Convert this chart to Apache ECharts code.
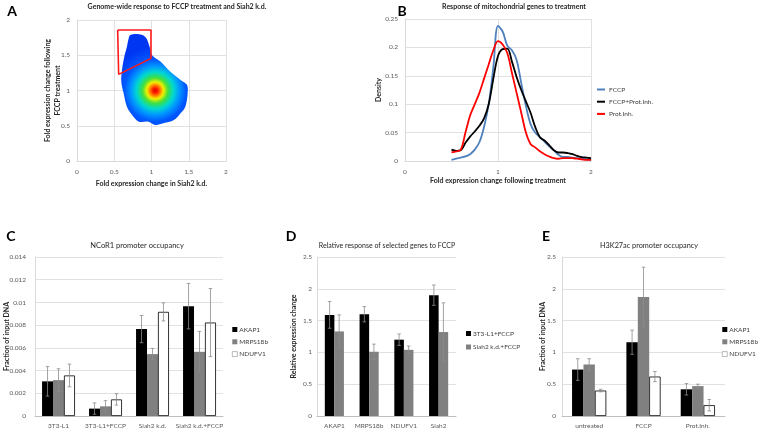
<!DOCTYPE html>
<html><head><meta charset="utf-8">
<script src="https://cdn.jsdelivr.net/npm/echarts@6/dist/echarts.min.js"></script>
<style>html,body{margin:0;padding:0;background:#fff}#c{width:765px;height:432px}</style>
</head><body><div id="c"></div>
<script>
// ---------- Panel A data ----------
const blobX = [0.716,0.805,0.917,0.975,1.007,1.12,1.25,1.39,1.476,1.485,1.454,1.39,1.30,1.16,1.05,0.96,0.83,0.74,0.67,0.626,0.595,0.604,0.635,0.67,0.694];
const blobY = [1.787,1.80,1.76,1.62,1.50,1.41,1.27,1.15,1.08,0.96,0.77,0.676,0.58,0.534,0.51,0.558,0.558,0.652,0.77,0.96,1.125,1.29,1.48,1.62,1.74];
const hotSpot = [1.05, 1.0];
const boxX = [0.546,0.993,0.993,0.559,0.546];
const boxY = [1.858,1.858,1.456,1.229,1.858];

// ---------- Panel B data ----------
const bX = [0.5,0.55,0.6,0.65,0.7,0.75,0.8,0.85,0.9,0.95,1.0,1.05,1.1,1.15,1.2,1.25,1.3,1.35,1.4,1.45,1.5,1.55,1.6,1.65,1.7,1.75,1.8,1.85,1.9,1.95,2.0];
const bFCCP = [0.002,0.004,0.006,0.008,0.012,0.02,0.033,0.06,0.1,0.165,0.238,0.228,0.203,0.195,0.178,0.137,0.097,0.065,0.05,0.042,0.034,0.026,0.019,0.011,0.007,0.007,0.006,0.005,0.004,0.003,0.002];
const bFCCPProt = [0.02,0.018,0.019,0.032,0.043,0.052,0.062,0.075,0.1,0.145,0.185,0.197,0.198,0.175,0.148,0.125,0.105,0.085,0.06,0.042,0.036,0.028,0.019,0.015,0.015,0.014,0.012,0.009,0.007,0.006,0.005];
const bProt = [0.015,0.017,0.02,0.05,0.08,0.1,0.12,0.145,0.17,0.195,0.211,0.205,0.19,0.155,0.12,0.085,0.05,0.03,0.024,0.017,0.012,0.008,0.005,0.004,0.005,0.005,0.005,0.004,0.003,0.002,0.002];

// ---------- Panel C data ----------
const cCats = ['3T3-L1','3T3-L1+FCCP','Siah2 k.d.','Siah2 k.d.+FCCP'];
const cAKAP1 = [0.00305,0.00065,0.00765,0.00967];
const cAKAP1Err = [0.0013,0.0005,0.0012,0.002];
const cMRPS18b = [0.00316,0.00085,0.00545,0.00565];
const cMRPS18bErr = [0.001,0.0005,0.0005,0.0018];
const cNDUFV1 = [0.00357,0.00146,0.00917,0.00823];
const cNDUFV1Err = [0.001,0.0005,0.0008,0.003];

// ---------- Panel D data ----------
const dCats = ['AKAP1','MRPS18b','NDUFV1','Siah2'];
const d3T3 = [1.59,1.60,1.20,1.90];
const d3T3Err = [0.21,0.12,0.09,0.16];
const dSiah = [1.33,1.01,1.04,1.32];
const dSiahErr = [0.26,0.12,0.06,0.46];

// ---------- Panel E data ----------
const eCats = ['untreated','FCCP','Prot.Inh.'];
const eAKAP1 = [0.73,1.16,0.42];
const eAKAP1Err = [0.17,0.19,0.09];
const eMRPS18b = [0.81,1.87,0.47];
const eMRPS18bErr = [0.09,0.47,0.03];
const eNDUFV1 = [0.40,0.62,0.17];
const eNDUFV1Err = [0.02,0.08,0.09];

const FONT = 'Lato, "Open Sans", sans-serif';
const gridCol = '#d9d9d9';
const lblStyle = {fontSize:6.5, color:'#595959', fontFamily:FONT};
const nameStyle = {fontSize:7, color:'#262626', fontWeight:'bold', fontFamily:FONT};

const chart = echarts.init(document.getElementById('c'), null, {renderer:'canvas'});

function valAxis(gi, min, max, interval, extra) {
  return Object.assign({
    type:'value', gridIndex:gi, min:min, max:max, interval:interval,
    axisLine:{show:true, lineStyle:{color:gridCol}}, axisTick:{show:false},
    splitLine:{show:true, lineStyle:{color:gridCol, width:0.8}},
    axisLabel:Object.assign({margin:7}, lblStyle),
    nameMoveOverlap:false
  }, extra || {});
}
function catAxis(gi, cats) {
  return {
    type:'category', gridIndex:gi, data:cats,
    axisLine:{show:true, lineStyle:{color:'#bfbfbf'}}, axisTick:{show:false},
    axisLabel:Object.assign({margin:6, interval:0}, lblStyle)
  };
}
function bar(name, xi, yi, data, color, gap, border) {
  return {
    type:'bar', name:name, xAxisIndex:xi, yAxisIndex:yi, data:data,
    barGap:'0%', barCategoryGap:gap,
    itemStyle:{color:color, borderColor:border ? '#000' : color, borderWidth:border ? 0.8 : 0},
    emphasis:{disabled:true}, z:2
  };
}
function errBars(xi, yi, vals, errs, si, n, gapFrac) {
  return {
    type:'custom', name:'err'+xi+'_'+si, xAxisIndex:xi, yAxisIndex:yi, z:5, silent:true,
    data: vals.map((v,i)=>[i, v, errs[i]]),
    renderItem: function(params, api){
      const ci = api.value(0), v = api.value(1), e = api.value(2);
      const band = api.size([1,0])[0];
      const total = band*(1-gapFrac), bw = total/n;
      const x = api.coord([ci,0])[0] - total/2 + bw*(si+0.5);
      const yt = api.coord([ci, v+e])[1], yb = api.coord([ci, v-e])[1];
      const st = {stroke:'#8c8c8c', lineWidth:0.8};
      return {type:'group', children:[
        {type:'line', shape:{x1:x,y1:yt,x2:x,y2:yb}, style:st},
        {type:'line', shape:{x1:x-1.8,y1:yt,x2:x+1.8,y2:yt}, style:st},
        {type:'line', shape:{x1:x-1.8,y1:yb,x2:x+1.8,y2:yb}, style:st}
      ]};
    }
  };
}
function bLine(name, data, color) {
  return {
    type:'line', name:name, xAxisIndex:1, yAxisIndex:1, smooth:0.35, showSymbol:false,
    data:bX.map((x,i)=>[x,data[i]]), lineStyle:{color:color, width:1.8}, itemStyle:{color:color},
    emphasis:{disabled:true}
  };
}
function txt(x, y, text, opts) {
  return {type:'text', x:x, y:y, silent:true, style:Object.assign({
    text:text, align:'center', verticalAlign:'middle', fontFamily:FONT, fontSize:7, fill:'#262626'
  }, opts || {})};
}
const legTxt = Object.assign({}, lblStyle, {color:'#404040', padding:[0,0,0,-3]});
const whiteIcon = {itemStyle:{color:'#fff', borderColor:'#8c8c8c', borderWidth:0.6}};

const option = {
  animation:false,
  textStyle:{fontFamily:FONT},
  grid:[
    {left:77, top:20, width:149, height:141},
    {left:405, top:19, width:186, height:142},
    {left:35, top:257, width:188, height:159},
    {left:317, top:257, width:139, height:159},
    {left:562, top:257, width:163, height:159}
  ],
  xAxis:[
    valAxis(0,0,2,0.5,{name:'Fold expression change in Siah2 k.d.', nameLocation:'middle', nameGap:19, nameTextStyle:nameStyle}),
    valAxis(1,0,2,1,{name:'Fold expression change following treatment', nameLocation:'middle', nameGap:16, nameTextStyle:nameStyle}),
    catAxis(2,cCats), catAxis(3,dCats), catAxis(4,eCats)
  ],
  yAxis:[
    valAxis(0,0,2,0.5,{name:'Fold expression change following\nFCCP treatment', nameLocation:'middle', nameGap:14, nameTextStyle:Object.assign({lineHeight:10}, nameStyle)}),
    valAxis(1,0,0.25,0.05,{name:'Density', nameLocation:'middle', nameGap:23, nameTextStyle:nameStyle}),
    valAxis(2,0,0.014,0.002,{axisLabel:Object.assign({margin:9}, lblStyle), name:'Fraction of input DNA', nameLocation:'middle', nameGap:25, nameTextStyle:nameStyle}),
    valAxis(3,0,2.5,0.5,{axisLabel:Object.assign({margin:5}, lblStyle), name:'Relative expression change', nameLocation:'middle', nameGap:20, nameTextStyle:nameStyle}),
    valAxis(4,0,2.5,0.5,{axisLabel:Object.assign({margin:6}, lblStyle), name:'Fraction of input DNA', nameLocation:'middle', nameGap:16, nameTextStyle:nameStyle})
  ],
  legend:[
    {data:['FCCP','FCCP+Prot.Inh.','Prot.Inh.'], orient:'vertical', left:597, top:86, padding:0, icon:'rect', itemWidth:8, itemHeight:2, itemGap:5.2, textStyle:Object.assign({}, lblStyle, {color:'#404040', padding:[0,0,0,-1]}), selectedMode:false},
    {data:['AKAP1','MRPS18b',Object.assign({name:'NDUFV1'}, whiteIcon)], orient:'vertical', left:232, top:326, padding:0, icon:'rect', itemWidth:5, itemHeight:5, itemGap:5.3, textStyle:legTxt, selectedMode:false},
    {data:['3T3-L1+FCCP','Siah2 k.d.+FCCP'], orient:'vertical', left:466, top:330, padding:0, icon:'rect', itemWidth:5, itemHeight:5, itemGap:6.5, textStyle:legTxt, selectedMode:false},
    {data:['AKAP1','MRPS18b',Object.assign({name:'NDUFV1'}, whiteIcon)], orient:'vertical', left:722, top:326, padding:0, icon:'rect', itemWidth:5, itemHeight:5, itemGap:5.3, textStyle:legTxt, selectedMode:false}
  ],
  graphic:[
    txt(12, 11, 'A', {fontSize:14, fontWeight:'bold', fill:'#000'}),
    txt(402, 11, 'B', {fontSize:14, fontWeight:'bold', fill:'#000'}),
    txt(11, 236, 'C', {fontSize:14, fontWeight:'bold', fill:'#000'}),
    txt(291, 236, 'D', {fontSize:14, fontWeight:'bold', fill:'#000'}),
    txt(546, 236, 'E', {fontSize:14, fontWeight:'bold', fill:'#000'}),
    txt(177, 7, 'Genome-wide response to FCCP treatment and Siah2 k.d.', {fontWeight:'bold'}),
    txt(514, 7, 'Response of mitochondrial genes to treatment', {fontWeight:'bold'}),
    txt(137, 246, 'NCoR1 promoter occupancy', {fontSize:7.5}),
    txt(387, 246, 'Relative response of selected genes to FCCP'),
    txt(649, 246, 'H3K27ac promoter occupancy', {fontSize:7.3})
  ],
  series:[
    {
      type:'custom', name:'density', xAxisIndex:0, yAxisIndex:0, silent:true, z:2,
      data:[hotSpot],
      renderItem:function(params, api){
        const pts = blobX.map((x,i)=>api.coord([x, blobY[i]]));
        const c = api.coord([api.value(0), api.value(1)]);
        const grad = new echarts.graphic.RadialGradient(c[0], c[1], 44, [
          {offset:0, color:'#e00000'},
          {offset:0.06, color:'#ff2000'},
          {offset:0.12, color:'#ff8000'},
          {offset:0.19, color:'#f0f000'},
          {offset:0.29, color:'#40e040'},
          {offset:0.42, color:'#00d8d0'},
          {offset:0.55, color:'#0098ff'},
          {offset:0.7, color:'#0058ff'},
          {offset:1, color:'#0036f2'}
        ], true);
        return {type:'polygon', shape:{points:pts, smooth:0.35}, style:{fill:grad}};
      }
    },
    {
      type:'line', name:'box', xAxisIndex:0, yAxisIndex:0, showSymbol:false, z:4,
      data:boxX.map((x,i)=>[x, boxY[i]]), lineStyle:{color:'#ff1a1a', width:1.6}, silent:true
    },
    bLine('FCCP', bFCCP, '#4f81bd'),
    bLine('FCCP+Prot.Inh.', bFCCPProt, '#000000'),
    bLine('Prot.Inh.', bProt, '#ff0000'),
    bar('AKAP1', 2, 2, cAKAP1, '#000000', '30%', false),
    bar('MRPS18b', 2, 2, cMRPS18b, '#808080', '30%', false),
    bar('NDUFV1', 2, 2, cNDUFV1, '#ffffff', '30%', true),
    errBars(2, 2, cAKAP1, cAKAP1Err, 0, 3, 0.30),
    errBars(2, 2, cMRPS18b, cMRPS18bErr, 1, 3, 0.30),
    errBars(2, 2, cNDUFV1, cNDUFV1Err, 2, 3, 0.30),
    bar('3T3-L1+FCCP', 3, 3, d3T3, '#000000', '45%', false),
    bar('Siah2 k.d.+FCCP', 3, 3, dSiah, '#808080', '45%', false),
    errBars(3, 3, d3T3, d3T3Err, 0, 2, 0.45),
    errBars(3, 3, dSiah, dSiahErr, 1, 2, 0.45),
    bar('AKAP1', 4, 4, eAKAP1, '#000000', '37%', false),
    bar('MRPS18b', 4, 4, eMRPS18b, '#808080', '37%', false),
    bar('NDUFV1', 4, 4, eNDUFV1, '#ffffff', '37%', true),
    errBars(4, 4, eAKAP1, eAKAP1Err, 0, 3, 0.37),
    errBars(4, 4, eMRPS18b, eMRPS18bErr, 1, 3, 0.37),
    errBars(4, 4, eNDUFV1, eNDUFV1Err, 2, 3, 0.37)
  ]
};
chart.setOption(option);
</script>
</body></html>
